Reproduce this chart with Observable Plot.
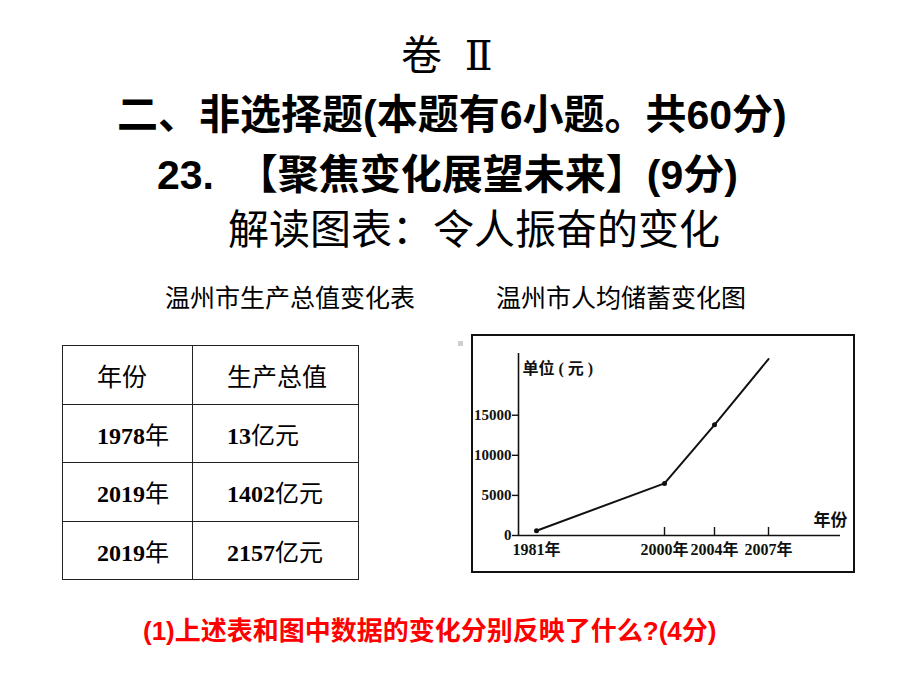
<!DOCTYPE html>
<html>
<head>
<meta charset="utf-8">
<script src="https://cdn.jsdelivr.net/npm/d3@7"></script>
<script src="https://cdn.jsdelivr.net/npm/@observablehq/plot@0.6"></script>
<style>
  html, body { margin: 0; padding: 0; background: #fff; }
  #page { position: relative; width: 920px; height: 690px; overflow: hidden; background: #fff; }
  .t { position: absolute; white-space: pre; line-height: 1; color: #000;
       font-family: "Liberation Sans", "Noto Sans CJK SC", sans-serif; }
  .b { font-weight: bold; }
  #box { position: absolute; left: 471px; top: 334px; width: 380px; height: 235px; border: 2px solid #111; }
  #box svg { display: block; }
  #sq { position: absolute; left: 458px; top: 341px; width: 5px; height: 5px; background: #cfcfcf; }
  table { position: absolute; left: 62px; top: 345px; border-collapse: collapse; }
  td { border: 1px solid #222; height: 58.5px; padding: 0 0 0 34px; box-sizing: border-box; vertical-align: middle;
       font-family: "Liberation Serif", "Noto Sans CJK SC", serif; font-size: 24px; white-space: nowrap; }
  td.h { font-family: "Noto Sans CJK SC", sans-serif; font-size: 25px; }
  td b { font-weight: bold; }
</style>
</head>
<body>
<div id="page">
  <div class="t" style="left:401px;top:36px;font-size:41px;">卷  <span style="font-family:'Liberation Serif','DejaVu Serif',serif;">Ⅱ</span></div>
  <div class="t b" style="left:117px;top:95px;font-size:41px;">二、非选择题(本题有6小题。共60分)</div>
  <div class="t b" style="left:157px;top:155px;font-size:41px;">23.  【聚焦变化展望未来】(9分)</div>
  <div class="t" style="left:228px;top:210px;font-size:41px;">解读图表：令人振奋的变化</div>
  <div class="t" style="left:165px;top:286px;font-size:25px;" id="sub1"></div>
  <div class="t" style="left:496px;top:286px;font-size:25px;" id="sub2"></div>
  <table id="tbl"></table>
  <div id="sq"></div>
  <div id="box"></div>
  <div class="t b" style="left:143px;top:618px;font-size:26px;color:#f00;">(1)上述表和图中数据的变化分别反映了什么?(4分)</div>
</div>
<script>
// ---- Table data ----
const tableTitle = "温州市生产总值变化表";
const tableHeaders = ["年份", "生产总值"];
const tableYears = ["1978", "2019", "2019"];
const tableValues = ["13", "1402", "2157"];

// ---- Chart data ----
const chartTitle = "温州市人均储蓄变化图";
const years = [1981, 2000, 2004, 2007];
const savings = [600, 6500, 13800, 22000];
const yTicks = [0, 5000, 10000, 15000];
const xTickMarks = [2000, 2004, 2007];
const xDomain = [1978, 1981, 2000, 2004, 2007, 2012];
const xRange = [45, 63, 191, 241, 295, 367];

document.getElementById("sub1").textContent = tableTitle;
document.getElementById("sub2").textContent = chartTitle;

// build table
const tbl = document.getElementById("tbl");
const head = tbl.insertRow();
tableHeaders.forEach((h, i) => {
  const c = head.insertCell();
  c.className = "h";
  c.style.width = i === 0 ? "130px" : "166px";
  c.textContent = h;
});
tableYears.forEach((y, i) => {
  const r = tbl.insertRow();
  const c1 = r.insertCell();
  c1.innerHTML = `<b>${y}</b>年`;
  const c2 = r.insertCell();
  c2.innerHTML = `<b>${tableValues[i]}</b>亿元`;
});

const data = years.map((year, i) => ({year, value: savings[i]}));

const chart = Plot.plot({
  width: 380,
  height: 235,
  marginTop: 17,
  marginBottom: 36,
  marginLeft: 45,
  marginRight: 13,
  x: {type: "linear", domain: xDomain, range: xRange},
  y: {domain: [0, 22700]},
  style: {fontFamily: "'Liberation Serif','Noto Sans CJK SC',serif", background: "transparent", overflow: "visible", color: "#111"},
  marks: [
    Plot.ruleY([0], {strokeWidth: 1.6}),
    Plot.ruleX([xDomain[0]], {strokeWidth: 1.6}),
    Plot.ruleX(xTickMarks, {y1: 0, y2: 1000, strokeWidth: 1.4}),
    Plot.axisY(yTicks, {tickSize: 6, tickPadding: 1, tickFormat: d3.format("d"), fontSize: 15, fontWeight: "bold", label: null, strokeWidth: 1.4}),
    Plot.axisX(years, {tickSize: 0, tickPadding: 8, tickFormat: d => d + "年", fontSize: 16, fontWeight: "bold", label: null}),
    Plot.line(data, {x: "year", y: "value", strokeWidth: 2, stroke: "#111"}),
    Plot.dot(data.filter(d => d.year !== 2007), {x: "year", y: "value", r: 2.5, fill: "#111"}),
    Plot.text(["单位 ( 元 )"], {frameAnchor: "top-left", dx: 4, dy: 9, fontSize: 16, fontWeight: "bold", textAnchor: "start"}),
    Plot.text(["年份"], {frameAnchor: "bottom-right", dx: 7, dy: -10, fontSize: 17, fontWeight: "bold", textAnchor: "end"})
  ]
});
document.getElementById("box").appendChild(chart);
</script>
</body>
</html>
